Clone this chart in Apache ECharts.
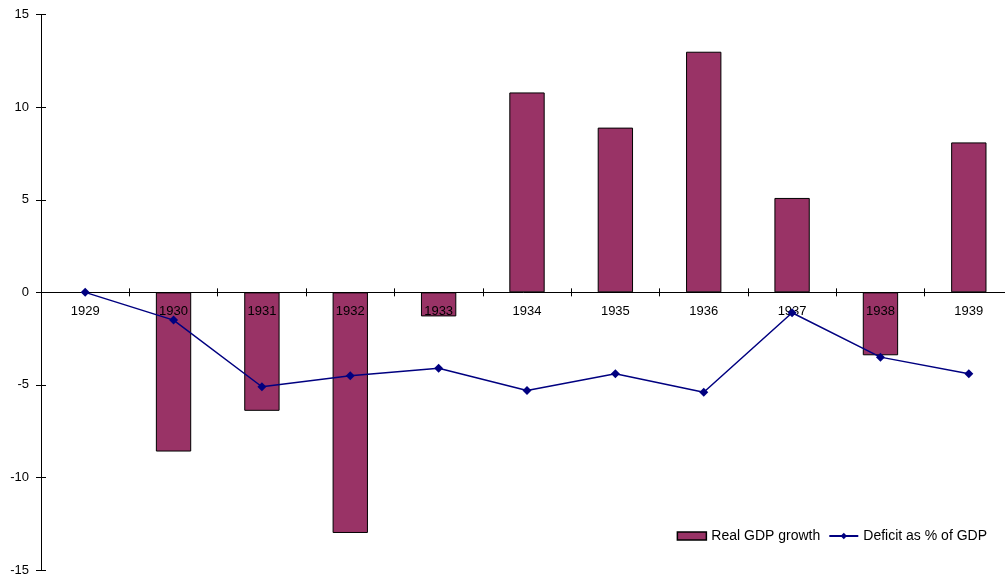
<!DOCTYPE html>
<html>
<head>
<meta charset="utf-8">
<script src="https://cdn.jsdelivr.net/npm/echarts@6/dist/echarts.min.js"></script>
<style>
  html, body { margin: 0; padding: 0; background: #fff; }
  #chart { width: 1005px; height: 576px; }
</style>
</head>
<body>
<div id="chart"></div>
<script>
// Annual data, 1929–1939 (no growth figure shown for 1929)
const years = ['1929', '1930', '1931', '1932', '1933', '1934', '1935', '1936', '1937', '1938', '1939'];
const realGdpGrowth = [null, -8.6, -6.4, -13.0, -1.3, 10.8, 8.9, 13.0, 5.1, -3.4, 8.1];
const deficitPctGdp = [0, -1.5, -5.1, -4.5, -4.1, -5.3, -4.4, -5.4, -1.1, -3.5, -4.4];
const yTicks = { min: -15, max: 15, interval: 5 };

const font = 'Liberation Sans, Arial, Helvetica, sans-serif';
const axisColor = '#000';

// plot area; the value range is symmetric, so the category axis sits half way down
const gridTop = 14.7, gridBottom = 6, chartH = 576;
const halfPlot = (chartH - gridTop - gridBottom) / 2;

const chart = echarts.init(document.getElementById('chart'));
chart.setOption({
  animation: false,
  backgroundColor: '#fff',
  textStyle: { fontFamily: font },
  grid: { left: 41, top: gridTop, bottom: gridBottom, right: -8, containLabel: false, outerBoundsMode: 'none' },
  legend: {
    right: 13,
    top: 524,
    itemWidth: 29,
    itemHeight: 8,
    itemGap: 8,
    textStyle: { fontFamily: font, fontSize: 14, color: '#000' },
    data: [
      { name: 'Real GDP growth', icon: 'rect', itemStyle: { borderColor: '#000', borderWidth: 1.5 } },
      { name: 'Deficit as % of GDP' }
    ]
  },
  xAxis: [
    {
      type: 'category',
      data: years,
      position: 'bottom',
      offset: -halfPlot,
      z: 3,
      axisLine: { onZero: false, lineStyle: { color: axisColor, width: 1 } },
      axisTick: { show: true, length: 4, lineStyle: { color: axisColor } },
      axisLabel: { fontFamily: font, fontSize: 13, color: '#000', margin: 13 },
      splitLine: { show: false }
    },
    {
      // upward half of the crossing tick marks
      type: 'category',
      data: years,
      position: 'top',
      offset: -halfPlot,
      z: 3,
      axisLine: { show: false, onZero: false },
      axisTick: { show: true, length: 4, lineStyle: { color: axisColor } },
      axisLabel: { show: false },
      splitLine: { show: false }
    }
  ],
  yAxis: [
    {
      type: 'value',
      min: yTicks.min, max: yTicks.max, interval: yTicks.interval,
      axisLine: { show: true, onZero: false, lineStyle: { color: axisColor, width: 1 } },
      axisTick: { show: true, length: 5, lineStyle: { color: axisColor } },
      axisLabel: { fontFamily: font, fontSize: 13, color: '#000', margin: 12 },
      splitLine: { show: false }
    },
    {
      // right half of the crossing tick marks
      type: 'value',
      position: 'left',
      min: yTicks.min, max: yTicks.max, interval: yTicks.interval,
      axisLine: { show: false, onZero: false },
      axisTick: { show: true, inside: true, length: 5, lineStyle: { color: axisColor } },
      axisLabel: { show: false },
      splitLine: { show: false }
    }
  ],
  series: [
    {
      name: 'Real GDP growth',
      type: 'bar',
      data: realGdpGrowth,
      barWidth: '40%',
      itemStyle: { color: '#993366', borderColor: '#000', borderWidth: 1 },
      z: 2
    },
    {
      name: 'Deficit as % of GDP',
      type: 'line',
      data: deficitPctGdp,
      symbol: 'diamond',
      symbolSize: 9,
      showAllSymbol: true,
      lineStyle: { color: '#000080', width: 1.5 },
      itemStyle: { color: '#000080' },
      z: 5
    }
  ]
});
</script>
</body>
</html>
